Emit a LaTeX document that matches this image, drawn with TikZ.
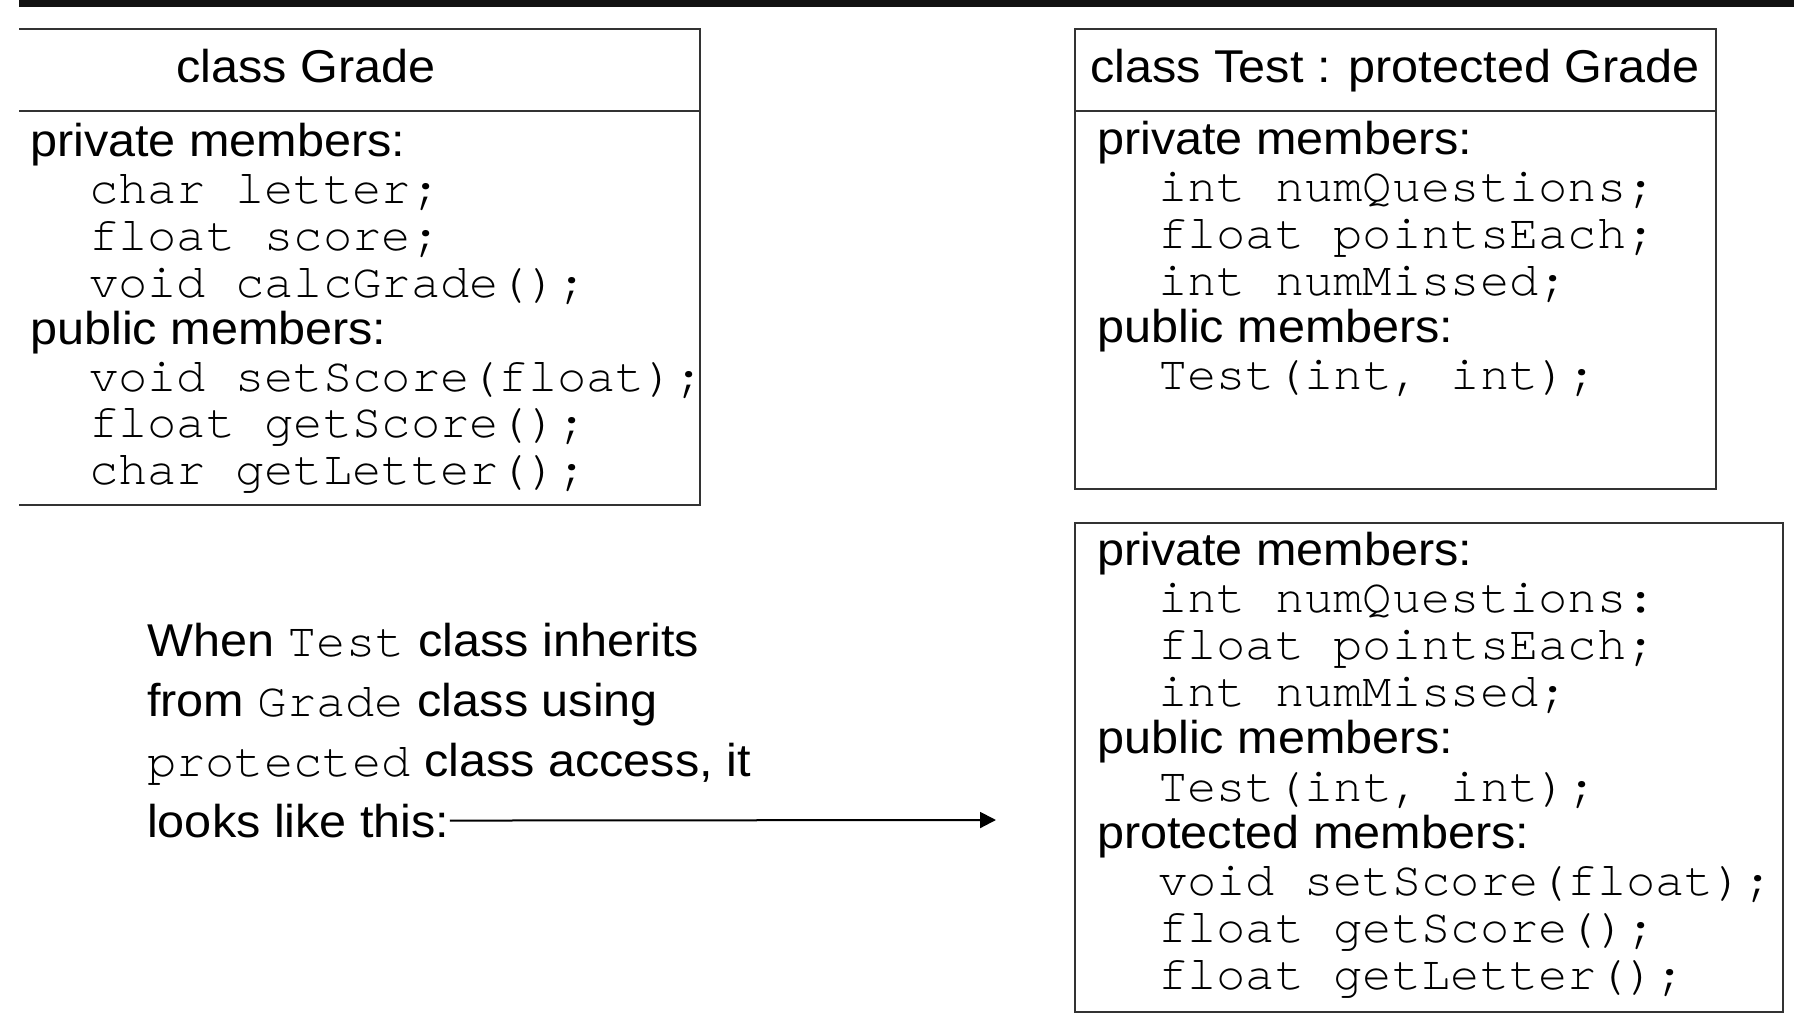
\documentclass[tikz,border=0pt]{standalone}
\usepackage{fontspec}
\setmainfont{Liberation Sans}[FakeStretch=1.056]
\setmonofont{TeX Gyre Cursor}[FakeStretch=1.016, Ligatures=NoCommon]
\usetikzlibrary{arrows.meta}
\begin{document}
\begin{tikzpicture}[x=1pt,y=-1pt,
  frame/.style={draw=black!80, line width=2pt},
  txt/.style={anchor=base west, inner sep=0pt, font=\fontsize{46}{47}\selectfont},
  code/.style={anchor=base west, inner sep=0pt, font=\fontsize{48}{47}\selectfont\ttfamily},
  head/.style={anchor=base, inner sep=0pt, font=\fontsize{46}{47}\selectfont},
  inl/.style={font=\fontsize{48}{47}\selectfont\ttfamily},
]
\useasboundingbox (0,0) rectangle (1794,1024);

% top rule
\fill[black!93] (19,0) rectangle (1794,7);

% ---- class Grade ----
\draw[frame] (19,29) -- (700,29) -- (700,505) -- (19,505);
\draw[frame] (19,111) -- (700,111);
\node[head] (gh) at (306,83) {class Grade};
\node[txt]  (g1) at (30,157)   {private members:};
\node[code] (g2) at (89,203.8) {char letter;};
\node[code] (g3) at (89,250.6) {float score;};
\node[code] (g4) at (89,297.4) {void calcGrade();};
\node[txt]  (g5) at (30,344.2) {public members:};
\node[code] (g6) at (89,391)   {void setScore(float);};
\node[code] (g7) at (89,437.8) {float getScore();};
\node[code] (g8) at (89,484.6) {char getLetter();};

% ---- class Test ----
\draw[frame] (1075,29) rectangle (1716,489);
\draw[frame] (1075,111) -- (1716,111);
\node[head] (th) at (1395,83) {class Test : protected Grade};
\node[txt]  (t1) at (1097,155)   {private members:};
\node[code] (t2) at (1158,201.9) {int numQuestions;};
\node[code] (t3) at (1158,248.8) {float pointsEach;};
\node[code] (t4) at (1158,295.7) {int numMissed;};
\node[txt]  (t5) at (1097,342.6) {public members:};
\node[code] (t6) at (1158,389.5) {Test(int, int);};

% ---- resulting layout ----
\draw[frame] (1075,523) rectangle (1783,1012);
\node[txt]  (p1)  at (1097,565)   {private members:};
\node[code] (p2)  at (1158,612.2) {int numQuestions:};
\node[code] (p3)  at (1158,659.4) {float pointsEach;};
\node[code] (p4)  at (1158,706.6) {int numMissed;};
\node[txt]  (p5)  at (1097,753.8) {public members:};
\node[code] (p6)  at (1158,801)   {Test(int, int);};
\node[txt]  (p7)  at (1097,848.2) {protected members:};
\node[code] (p8)  at (1158,895.4) {void setScore(float);};
\node[code] (p9)  at (1158,942.6) {float getScore();};
\node[code] (p10) at (1158,989.8) {float getLetter();};

% ---- explanation ----
\newcommand\kw[1]{{\fontsize{48}{47}\selectfont\ttfamily #1}}
\node[txt] (e1) at (147,656) {When \kw{Test} class inherits};
\node[txt] (e2) at (147,716) {from \kw{Grade} class using};
\node[txt] (e3) at (147,776) {\kw{protected} class access, it};
\node[txt] (e4) at (147,837) {looks like this:};
\coordinate (tip) at (996,820);
\draw[line width=2pt, -{Triangle[length=16pt,width=16pt]}] (e4.east) -- (tip);
\end{tikzpicture}
\end{document}
